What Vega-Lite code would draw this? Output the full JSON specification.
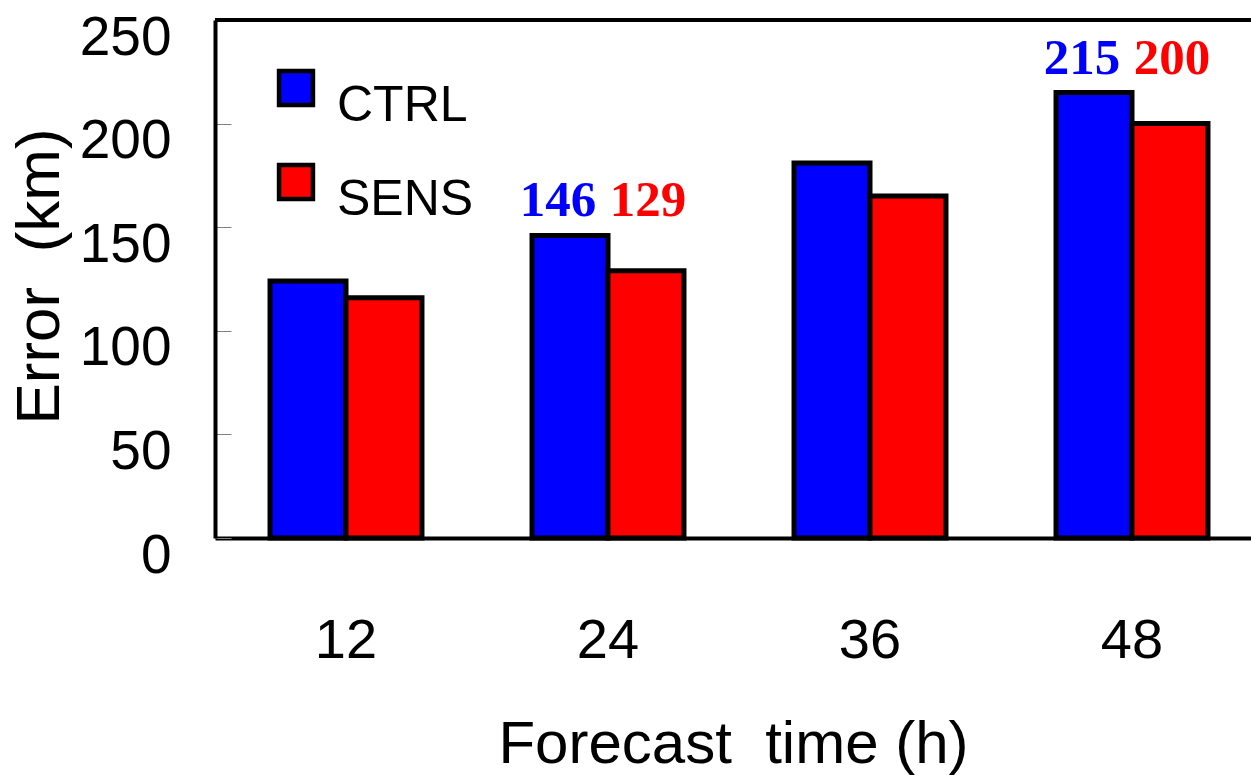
{
  "$schema": "https://vega.github.io/schema/vega-lite/v6.json",
  "width": 1036,
  "height": 518,
  "autosize": {"type": "none"},
  "padding": {"left": 215, "top": 20, "right": 0, "bottom": 237},
  "background": "white",
  "config": {
    "view": {"stroke": null},
    "axis": {"grid": false, "domainColor": "black", "domainWidth": 4, "labelColor": "black", "titleColor": "black", "titleFontWeight": "normal"}
  },
  "data": {
    "values": [
      {"time": 12, "series": "CTRL", "error": 124},
      {"time": 12, "series": "SENS", "error": 116},
      {"time": 24, "series": "CTRL", "error": 146},
      {"time": 24, "series": "SENS", "error": 129},
      {"time": 36, "series": "CTRL", "error": 181},
      {"time": 36, "series": "SENS", "error": 165},
      {"time": 48, "series": "CTRL", "error": 215},
      {"time": 48, "series": "SENS", "error": 200}
    ]
  },
  "layer": [
    {
      "mark": {"type": "bar", "stroke": "black", "strokeWidth": 5},
      "encoding": {
        "x": {
          "field": "time", "type": "ordinal", "title": "Forecast\u00a0\u00a0time\u00a0(h)",
          "scale": {"range": [0, 1048], "paddingInner": 0.42, "paddingOuter": 0.21},
          "axis": {
            "labelAngle": 0, "ticks": false, "labelPadding": 75,
            "labelFont": "Liberation Sans", "labelFontSize": 56,
            "titleFont": "Liberation Sans", "titleFontSize": 60,
            "titleX": 518, "titleY": 224, "titleBaseline": "alphabetic", "titleAlign": "center"
          }
        },
        "xOffset": {"field": "series", "type": "nominal", "sort": ["CTRL", "SENS"], "scale": {"paddingInner": 0, "paddingOuter": 0}},
        "y": {
          "field": "error", "type": "quantitative", "title": "Error\u00a0\u00a0(km)",
          "scale": {"domain": [0, 250], "nice": false},
          "axis": {
            "values": [0, 50, 100, 150, 200, 250],
            "tickSize": -16, "tickColor": "#808080", "tickWidth": 1,
            "labelPadding": 60, "labelOffset": 17,
            "labelFont": "Liberation Sans", "labelFontSize": 55,
            "titleFont": "Liberation Sans", "titleFontSize": 62,
            "titleX": -176, "titleY": 256, "titleAngle": -90, "titleBaseline": "middle", "titleAlign": "center"
          }
        },
        "color": {
          "field": "series", "type": "nominal",
          "scale": {"domain": ["CTRL", "SENS"], "range": ["#0000FF", "#FF0000"]},
          "legend": {
            "orient": "none", "legendX": 56, "legendY": 43, "padding": 0, "title": null,
            "symbolType": "square", "symbolSize": 1150, "symbolStrokeColor": "black", "symbolStrokeWidth": 4.5,
            "labelFont": "Liberation Sans", "labelFontSize": 50, "labelColor": "black",
            "labelOffset": 16, "rowPadding": 25,
            "encode": {"labels": {"update": {"dy": {"value": 18}}}}
          }
        }
      }
    },
    {
      "mark": {"type": "rule", "color": "black", "strokeWidth": 4},
      "encoding": {"y": {"datum": 250}}
    },
    {
      "transform": [
        {"joinaggregate": [{"op": "max", "field": "error", "as": "top"}], "groupby": ["time"]},
        {"filter": "datum.series === 'CTRL' && (datum.time === 24 || datum.time === 48)"}
      ],
      "mark": {"type": "text", "font": "Liberation Serif", "fontWeight": "bold", "fontSize": 51, "color": "#0000FF", "dy": -19, "dx": -12, "baseline": "alphabetic"},
      "encoding": {
        "x": {"field": "time", "type": "ordinal", "title": "Forecast\u00a0\u00a0time\u00a0(h)"},
        "xOffset": {"field": "series", "type": "nominal", "sort": ["CTRL", "SENS"]},
        "y": {"field": "top", "type": "quantitative", "title": "Error\u00a0\u00a0(km)"},
        "text": {"field": "error", "type": "quantitative", "format": "d"}
      }
    },
    {
      "transform": [
        {"joinaggregate": [{"op": "max", "field": "error", "as": "top"}], "groupby": ["time"]},
        {"filter": "datum.series === 'SENS' && (datum.time === 24 || datum.time === 48)"}
      ],
      "mark": {"type": "text", "font": "Liberation Serif", "fontWeight": "bold", "fontSize": 51, "color": "#FF0000", "dy": -19, "dx": 2, "baseline": "alphabetic"},
      "encoding": {
        "x": {"field": "time", "type": "ordinal", "title": "Forecast\u00a0\u00a0time\u00a0(h)"},
        "xOffset": {"field": "series", "type": "nominal", "sort": ["CTRL", "SENS"]},
        "y": {"field": "top", "type": "quantitative", "title": "Error\u00a0\u00a0(km)"},
        "text": {"field": "error", "type": "quantitative", "format": "d"}
      }
    }
  ]
}
